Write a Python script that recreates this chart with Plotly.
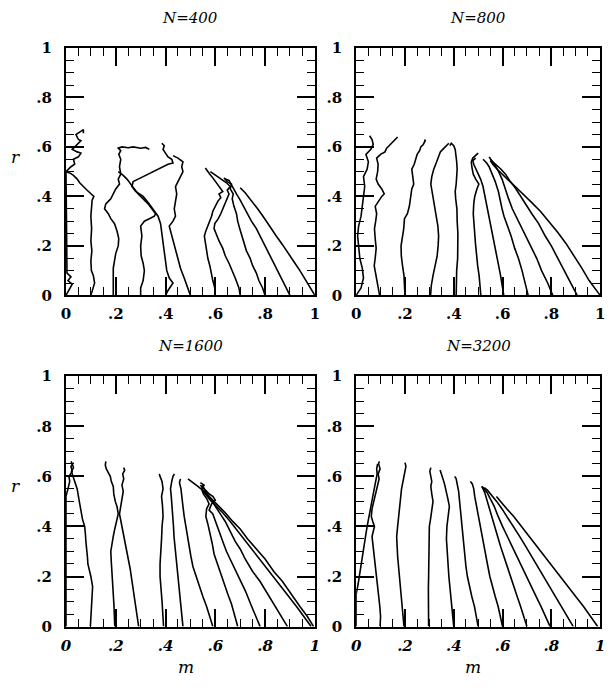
import plotly.graph_objects as go

# Panel titles and shared tick labels
PANEL_TITLES = ["N=400", "N=800", "N=1600", "N=3200"]
TICK_VALUES = [0, 0.2, 0.4, 0.6, 0.8, 1]
TICK_TEXT = ["0", ".2", ".4", ".6", ".8", "1"]

# Trajectories in the (m, r) plane, one list of (m, r) points per run
N400_TRACKS = [
    [(0.0, 0.0), (0.012, 0.02), (0.025, 0.045), (0.008, 0.06), (0.02, 0.075), (0.004, 0.09),
     (0.003, 0.2), (0.003, 0.35), (0.003, 0.48), (0.0, 0.5), (0.02, 0.52), (0.035, 0.53),
     (0.03, 0.55), (0.05, 0.56), (0.06, 0.575), (0.045, 0.58), (0.025, 0.59), (0.04, 0.605),
     (0.06, 0.625), (0.05, 0.63), (0.04, 0.65), (0.055, 0.66), (0.07, 0.67), (0.07, 0.655)],
    [(0.1, 0.0), (0.105, 0.02), (0.115, 0.05), (0.11, 0.08), (0.102, 0.1), (0.1, 0.14),
     (0.104, 0.18), (0.1, 0.22), (0.103, 0.27), (0.1, 0.32), (0.102, 0.36), (0.105, 0.385),
     (0.112, 0.4), (0.1, 0.41), (0.085, 0.425), (0.07, 0.44), (0.055, 0.455), (0.045, 0.47),
     (0.03, 0.485), (0.015, 0.495), (0.0, 0.5)],
    [(0.19, 0.0), (0.19, 0.03), (0.188, 0.07), (0.19, 0.11), (0.195, 0.14), (0.2, 0.17),
     (0.21, 0.2), (0.212, 0.23), (0.205, 0.26), (0.195, 0.29), (0.18, 0.31), (0.17, 0.33),
     (0.155, 0.35), (0.16, 0.37), (0.17, 0.38), (0.18, 0.39), (0.19, 0.41), (0.2, 0.43),
     (0.215, 0.45), (0.21, 0.47), (0.22, 0.49), (0.215, 0.52), (0.22, 0.55), (0.212, 0.57),
     (0.22, 0.585), (0.21, 0.595), (0.225, 0.6), (0.25, 0.597), (0.27, 0.6), (0.3, 0.595),
     (0.32, 0.598), (0.335, 0.59)],
    [(0.3, 0.0), (0.3, 0.03), (0.31, 0.06), (0.315, 0.1), (0.31, 0.13), (0.302, 0.16),
     (0.3, 0.2), (0.305, 0.24), (0.3, 0.28), (0.315, 0.3), (0.335, 0.31), (0.355, 0.32),
     (0.36, 0.33), (0.345, 0.35), (0.33, 0.37), (0.31, 0.39), (0.29, 0.41), (0.275, 0.43),
     (0.26, 0.45), (0.245, 0.47), (0.23, 0.485), (0.21, 0.5)],
    [(0.4, 0.0), (0.41, 0.02), (0.43, 0.05), (0.415, 0.07), (0.405, 0.1), (0.4, 0.14),
     (0.395, 0.18), (0.39, 0.22), (0.385, 0.26), (0.38, 0.29), (0.37, 0.32), (0.35, 0.35),
     (0.33, 0.375), (0.31, 0.4), (0.28, 0.42), (0.265, 0.44), (0.27, 0.46), (0.29, 0.47),
     (0.31, 0.48), (0.33, 0.49), (0.35, 0.5), (0.37, 0.51), (0.39, 0.52), (0.41, 0.53),
     (0.43, 0.535), (0.425, 0.55), (0.41, 0.56), (0.4, 0.575), (0.39, 0.59), (0.395, 0.605),
     (0.385, 0.615)],
    [(0.5, 0.0), (0.49, 0.03), (0.475, 0.07), (0.46, 0.11), (0.45, 0.15), (0.44, 0.19),
     (0.43, 0.23), (0.42, 0.26), (0.415, 0.28), (0.43, 0.3), (0.44, 0.32), (0.435, 0.35),
     (0.44, 0.38), (0.445, 0.41), (0.44, 0.44), (0.45, 0.46), (0.46, 0.48), (0.47, 0.5),
     (0.465, 0.52), (0.47, 0.54), (0.45, 0.555), (0.43, 0.565)],
    [(0.6, 0.0), (0.598, 0.03), (0.59, 0.06), (0.585, 0.09), (0.578, 0.12), (0.57, 0.15),
     (0.565, 0.18), (0.558, 0.21), (0.556, 0.24), (0.562, 0.26), (0.57, 0.28), (0.578, 0.3),
     (0.585, 0.32), (0.59, 0.34), (0.6, 0.36), (0.61, 0.38), (0.622, 0.395), (0.615, 0.41),
     (0.63, 0.42), (0.62, 0.435), (0.61, 0.445), (0.6, 0.46), (0.59, 0.475), (0.578, 0.49),
     (0.565, 0.505), (0.56, 0.515)],
    [(0.7, 0.0), (0.695, 0.03), (0.68, 0.07), (0.668, 0.1), (0.655, 0.13), (0.64, 0.16),
     (0.63, 0.19), (0.615, 0.22), (0.602, 0.25), (0.595, 0.27), (0.598, 0.29), (0.612, 0.31),
     (0.622, 0.33), (0.63, 0.35), (0.64, 0.37), (0.645, 0.39), (0.655, 0.41), (0.648, 0.425),
     (0.66, 0.44), (0.645, 0.455), (0.63, 0.465), (0.612, 0.48), (0.595, 0.49), (0.58, 0.5)],
    [(0.8, 0.0), (0.79, 0.03), (0.775, 0.06), (0.765, 0.09), (0.75, 0.12), (0.74, 0.15),
     (0.725, 0.18), (0.715, 0.21), (0.705, 0.24), (0.698, 0.27), (0.69, 0.3), (0.685, 0.33),
     (0.675, 0.36), (0.668, 0.39), (0.672, 0.41), (0.66, 0.43), (0.665, 0.45), (0.648, 0.46),
     (0.635, 0.475)],
    [(0.9, 0.0), (0.885, 0.03), (0.87, 0.06), (0.855, 0.09), (0.84, 0.12), (0.825, 0.15),
     (0.81, 0.18), (0.795, 0.21), (0.78, 0.24), (0.765, 0.27), (0.745, 0.3), (0.73, 0.33),
     (0.715, 0.36), (0.7, 0.385), (0.685, 0.41), (0.675, 0.43), (0.665, 0.45), (0.655, 0.465),
     (0.64, 0.47)],
    [(1.0, 0.0), (0.98, 0.035), (0.96, 0.07), (0.94, 0.1), (0.92, 0.13), (0.895, 0.17),
     (0.87, 0.205), (0.845, 0.24), (0.82, 0.28), (0.795, 0.315), (0.77, 0.35), (0.745, 0.385),
     (0.72, 0.415), (0.7, 0.435)],
]

N800_TRACKS = [
    [(0.0, 0.0), (0.02, 0.03), (0.03, 0.07), (0.025, 0.11), (0.015, 0.15), (0.01, 0.2),
     (0.006, 0.24), (0.01, 0.28), (0.02, 0.32), (0.025, 0.36), (0.03, 0.4), (0.035, 0.44),
     (0.03, 0.48), (0.045, 0.51), (0.05, 0.54), (0.04, 0.57), (0.06, 0.59), (0.07, 0.61),
     (0.065, 0.63), (0.055, 0.645)],
    [(0.096, 0.0), (0.09, 0.03), (0.083, 0.06), (0.078, 0.09), (0.074, 0.12), (0.078, 0.15),
     (0.082, 0.19), (0.078, 0.23), (0.075, 0.27), (0.08, 0.3), (0.084, 0.33), (0.078, 0.36),
     (0.09, 0.38), (0.105, 0.4), (0.115, 0.41), (0.105, 0.43), (0.09, 0.45), (0.082, 0.47),
     (0.088, 0.5), (0.09, 0.53), (0.084, 0.555), (0.1, 0.57), (0.118, 0.58), (0.125, 0.595),
     (0.135, 0.605), (0.145, 0.615), (0.155, 0.625), (0.165, 0.635), (0.17, 0.64)],
    [(0.2, 0.0), (0.199, 0.04), (0.196, 0.08), (0.19, 0.12), (0.185, 0.16), (0.184, 0.2),
     (0.192, 0.24), (0.195, 0.27), (0.198, 0.31), (0.21, 0.33), (0.218, 0.36), (0.222, 0.4),
     (0.228, 0.43), (0.236, 0.45), (0.233, 0.48), (0.228, 0.51), (0.238, 0.53), (0.245, 0.55),
     (0.25, 0.57), (0.26, 0.585), (0.265, 0.6), (0.275, 0.61), (0.283, 0.625), (0.28, 0.63)],
    [(0.305, 0.0), (0.308, 0.04), (0.315, 0.08), (0.325, 0.12), (0.332, 0.16), (0.336, 0.2),
     (0.338, 0.24), (0.335, 0.28), (0.33, 0.31), (0.322, 0.35), (0.316, 0.39), (0.312, 0.42),
     (0.306, 0.45), (0.31, 0.48), (0.318, 0.51), (0.33, 0.54), (0.338, 0.56), (0.345, 0.58),
     (0.355, 0.59), (0.365, 0.6), (0.372, 0.61), (0.38, 0.615)],
    [(0.41, 0.0), (0.41, 0.05), (0.412, 0.1), (0.416, 0.15), (0.418, 0.2), (0.417, 0.25),
     (0.414, 0.3), (0.413, 0.35), (0.408, 0.39), (0.406, 0.42), (0.41, 0.45), (0.412, 0.48),
     (0.414, 0.51), (0.412, 0.54), (0.41, 0.57), (0.406, 0.59), (0.4, 0.605), (0.39, 0.615),
     (0.384, 0.605)],
    [(0.511, 0.0), (0.509, 0.04), (0.504, 0.08), (0.498, 0.12), (0.492, 0.17), (0.489, 0.21),
     (0.486, 0.25), (0.483, 0.29), (0.48, 0.33), (0.482, 0.37), (0.486, 0.4), (0.495, 0.43),
     (0.503, 0.45), (0.49, 0.47), (0.48, 0.49), (0.474, 0.52), (0.472, 0.54), (0.478, 0.555),
     (0.49, 0.565), (0.5, 0.575)],
    [(0.605, 0.0), (0.6, 0.04), (0.592, 0.08), (0.584, 0.12), (0.576, 0.16), (0.566, 0.21),
     (0.558, 0.25), (0.55, 0.29), (0.543, 0.33), (0.536, 0.37), (0.528, 0.41), (0.52, 0.44),
     (0.51, 0.47), (0.5, 0.49), (0.49, 0.51), (0.482, 0.53), (0.478, 0.545), (0.49, 0.555)],
    [(0.705, 0.0), (0.693, 0.05), (0.68, 0.1), (0.665, 0.15), (0.65, 0.19), (0.635, 0.24),
     (0.62, 0.28), (0.606, 0.32), (0.598, 0.35), (0.59, 0.39), (0.583, 0.42), (0.57, 0.46),
     (0.558, 0.49), (0.545, 0.52), (0.535, 0.535), (0.52, 0.55)],
    [(0.806, 0.0), (0.785, 0.05), (0.76, 0.1), (0.74, 0.15), (0.72, 0.19), (0.7, 0.23),
     (0.68, 0.27), (0.66, 0.31), (0.64, 0.35), (0.625, 0.39), (0.612, 0.43), (0.598, 0.47),
     (0.584, 0.5), (0.57, 0.525), (0.555, 0.545), (0.545, 0.56)],
    [(0.906, 0.0), (0.88, 0.05), (0.852, 0.1), (0.826, 0.15), (0.8, 0.2), (0.775, 0.24),
     (0.748, 0.29), (0.72, 0.33), (0.694, 0.37), (0.672, 0.4), (0.652, 0.435), (0.632, 0.46),
     (0.612, 0.49), (0.594, 0.51), (0.575, 0.525), (0.56, 0.54), (0.55, 0.55)],
    [(1.0, 0.0), (0.978, 0.03), (0.955, 0.06), (0.925, 0.11), (0.893, 0.16), (0.86, 0.21),
     (0.826, 0.255), (0.79, 0.3), (0.755, 0.34), (0.72, 0.375), (0.685, 0.41), (0.652, 0.44),
     (0.625, 0.465), (0.598, 0.49), (0.578, 0.51), (0.56, 0.53), (0.55, 0.545)],
]

N1600_TRACKS = [
    [(0.0, 0.0), (0.0, 0.3), (0.0, 0.52), (0.008, 0.55), (0.015, 0.58), (0.012, 0.6),
     (0.025, 0.62), (0.02, 0.64), (0.03, 0.655)],
    [(0.098, 0.0), (0.1, 0.04), (0.104, 0.08), (0.106, 0.12), (0.107, 0.16), (0.1, 0.2),
     (0.095, 0.225), (0.088, 0.25), (0.086, 0.28), (0.082, 0.31), (0.08, 0.34), (0.078, 0.37),
     (0.075, 0.4), (0.066, 0.43), (0.06, 0.46), (0.055, 0.49), (0.05, 0.52), (0.045, 0.55),
     (0.035, 0.575), (0.028, 0.6), (0.022, 0.62), (0.03, 0.635), (0.025, 0.65), (0.02, 0.66)],
    [(0.196, 0.0), (0.196, 0.04), (0.193, 0.08), (0.19, 0.13), (0.188, 0.18), (0.185, 0.22),
     (0.182, 0.26), (0.18, 0.3), (0.184, 0.33), (0.19, 0.36), (0.196, 0.39), (0.203, 0.42),
     (0.21, 0.45), (0.205, 0.48), (0.198, 0.5), (0.192, 0.53), (0.19, 0.56), (0.182, 0.58),
     (0.178, 0.6), (0.17, 0.615), (0.162, 0.63), (0.158, 0.645), (0.16, 0.66)],
    [(0.292, 0.0), (0.288, 0.03), (0.282, 0.07), (0.276, 0.11), (0.27, 0.15), (0.264, 0.19),
     (0.258, 0.23), (0.25, 0.27), (0.244, 0.31), (0.236, 0.35), (0.228, 0.39), (0.222, 0.42),
     (0.215, 0.45), (0.22, 0.48), (0.226, 0.51), (0.23, 0.54), (0.225, 0.565), (0.232, 0.59),
     (0.228, 0.61), (0.236, 0.625), (0.232, 0.635)],
    [(0.392, 0.0), (0.39, 0.05), (0.386, 0.1), (0.382, 0.15), (0.378, 0.2), (0.378, 0.25),
     (0.382, 0.3), (0.384, 0.35), (0.386, 0.4), (0.39, 0.44), (0.388, 0.48), (0.384, 0.52),
     (0.39, 0.55), (0.386, 0.58), (0.378, 0.6), (0.375, 0.61)],
    [(0.47, 0.0), (0.466, 0.04), (0.46, 0.08), (0.458, 0.12), (0.455, 0.16), (0.448, 0.21),
     (0.442, 0.26), (0.437, 0.31), (0.434, 0.36), (0.432, 0.4), (0.428, 0.44), (0.426, 0.48),
     (0.423, 0.52), (0.42, 0.55), (0.425, 0.58), (0.43, 0.6), (0.436, 0.61)],
    [(0.59, 0.0), (0.578, 0.04), (0.565, 0.08), (0.55, 0.12), (0.537, 0.16), (0.522, 0.2),
     (0.51, 0.24), (0.502, 0.28), (0.495, 0.32), (0.488, 0.36), (0.48, 0.4), (0.475, 0.44),
     (0.47, 0.48), (0.466, 0.52), (0.462, 0.55), (0.456, 0.575), (0.46, 0.59)],
    [(0.69, 0.0), (0.68, 0.04), (0.665, 0.09), (0.65, 0.13), (0.636, 0.17), (0.622, 0.21),
     (0.606, 0.25), (0.595, 0.29), (0.588, 0.33), (0.58, 0.37), (0.57, 0.41), (0.562, 0.44),
     (0.565, 0.47), (0.575, 0.49), (0.566, 0.51), (0.552, 0.53), (0.545, 0.55), (0.555, 0.565),
     (0.54, 0.575)],
    [(0.78, 0.0), (0.762, 0.04), (0.742, 0.09), (0.722, 0.14), (0.702, 0.18), (0.682, 0.22),
     (0.662, 0.26), (0.645, 0.3), (0.63, 0.34), (0.615, 0.38), (0.6, 0.42), (0.59, 0.45),
     (0.575, 0.465), (0.585, 0.49), (0.6, 0.505), (0.59, 0.52), (0.575, 0.53), (0.56, 0.545),
     (0.55, 0.56)],
    [(0.89, 0.0), (0.865, 0.04), (0.84, 0.08), (0.81, 0.13), (0.78, 0.18), (0.75, 0.22),
     (0.72, 0.27), (0.7, 0.31), (0.68, 0.34), (0.66, 0.38), (0.64, 0.42), (0.62, 0.45),
     (0.6, 0.48), (0.58, 0.51), (0.565, 0.53), (0.555, 0.55), (0.54, 0.565)],
    [(0.995, 0.0), (0.97, 0.04), (0.94, 0.08), (0.905, 0.13), (0.87, 0.18), (0.835, 0.22),
     (0.8, 0.27), (0.765, 0.31), (0.73, 0.35), (0.7, 0.39), (0.67, 0.42), (0.64, 0.455),
     (0.61, 0.485), (0.58, 0.515), (0.555, 0.54), (0.53, 0.56), (0.505, 0.58), (0.49, 0.59)],
    [(0.985, 0.0), (0.96, 0.035), (0.93, 0.075), (0.895, 0.12), (0.86, 0.165), (0.825, 0.21),
     (0.79, 0.255), (0.755, 0.3), (0.72, 0.345), (0.69, 0.385), (0.66, 0.42), (0.63, 0.455),
     (0.605, 0.48), (0.58, 0.505), (0.56, 0.53), (0.545, 0.55), (0.55, 0.565)],
]

N3200_TRACKS = [
    [(0.0, 0.0), (0.0, 0.13), (0.008, 0.17), (0.015, 0.21), (0.02, 0.25), (0.028, 0.29),
     (0.034, 0.33), (0.04, 0.37), (0.045, 0.4), (0.052, 0.44), (0.06, 0.48), (0.068, 0.52),
     (0.074, 0.55), (0.08, 0.58), (0.086, 0.61), (0.084, 0.63), (0.088, 0.65)],
    [(0.098, 0.0), (0.1, 0.04), (0.097, 0.08), (0.092, 0.12), (0.087, 0.16), (0.082, 0.2),
     (0.077, 0.24), (0.072, 0.28), (0.068, 0.32), (0.065, 0.36), (0.07, 0.38), (0.075, 0.4),
     (0.068, 0.42), (0.062, 0.44), (0.065, 0.47), (0.072, 0.5), (0.08, 0.53), (0.088, 0.56),
     (0.094, 0.59), (0.09, 0.61), (0.098, 0.63), (0.092, 0.65), (0.095, 0.66)],
    [(0.196, 0.0), (0.192, 0.04), (0.188, 0.08), (0.186, 0.12), (0.182, 0.16), (0.178, 0.2),
     (0.174, 0.24), (0.17, 0.28), (0.168, 0.32), (0.166, 0.36), (0.17, 0.4), (0.174, 0.44),
     (0.178, 0.48), (0.182, 0.52), (0.186, 0.55), (0.192, 0.58), (0.198, 0.61), (0.204, 0.64),
     (0.2, 0.655)],
    [(0.297, 0.0), (0.296, 0.05), (0.295, 0.1), (0.296, 0.15), (0.297, 0.2), (0.298, 0.25),
     (0.3, 0.3), (0.299, 0.35), (0.3, 0.4), (0.305, 0.43), (0.31, 0.46), (0.315, 0.5),
     (0.31, 0.53), (0.306, 0.56), (0.31, 0.58), (0.305, 0.6), (0.302, 0.62), (0.306, 0.635)],
    [(0.4, 0.0), (0.396, 0.05), (0.39, 0.1), (0.385, 0.15), (0.38, 0.2), (0.376, 0.25),
     (0.372, 0.3), (0.37, 0.35), (0.372, 0.4), (0.378, 0.44), (0.382, 0.48), (0.376, 0.51),
     (0.37, 0.54), (0.362, 0.57), (0.356, 0.59), (0.35, 0.61), (0.344, 0.625)],
    [(0.5, 0.0), (0.494, 0.04), (0.485, 0.08), (0.474, 0.12), (0.464, 0.16), (0.456, 0.2),
     (0.45, 0.24), (0.446, 0.28), (0.442, 0.32), (0.438, 0.36), (0.436, 0.4), (0.432, 0.44),
     (0.428, 0.48), (0.424, 0.51), (0.42, 0.54), (0.414, 0.57), (0.41, 0.59), (0.404, 0.6)],
    [(0.6, 0.0), (0.592, 0.04), (0.582, 0.08), (0.57, 0.12), (0.558, 0.16), (0.548, 0.2),
     (0.538, 0.25), (0.53, 0.29), (0.522, 0.33), (0.514, 0.37), (0.505, 0.41), (0.497, 0.45),
     (0.49, 0.49), (0.486, 0.52), (0.482, 0.55), (0.476, 0.57), (0.468, 0.58)],
    [(0.7, 0.0), (0.688, 0.04), (0.674, 0.08), (0.66, 0.12), (0.646, 0.16), (0.632, 0.2),
     (0.618, 0.24), (0.605, 0.28), (0.592, 0.32), (0.58, 0.36), (0.568, 0.4), (0.556, 0.44),
     (0.545, 0.48), (0.535, 0.51), (0.527, 0.535), (0.52, 0.55), (0.515, 0.56)],
    [(0.795, 0.0), (0.778, 0.04), (0.758, 0.08), (0.738, 0.12), (0.718, 0.16), (0.698, 0.2),
     (0.678, 0.24), (0.658, 0.28), (0.638, 0.32), (0.62, 0.36), (0.6, 0.4), (0.582, 0.44),
     (0.566, 0.48), (0.55, 0.51), (0.537, 0.535), (0.525, 0.55), (0.515, 0.56)],
    [(0.89, 0.0), (0.866, 0.04), (0.842, 0.08), (0.818, 0.12), (0.794, 0.16), (0.77, 0.2),
     (0.745, 0.24), (0.72, 0.28), (0.695, 0.32), (0.67, 0.36), (0.645, 0.4), (0.62, 0.44),
     (0.598, 0.47), (0.576, 0.5), (0.556, 0.525), (0.538, 0.545), (0.525, 0.555)],
    [(0.99, 0.0), (0.962, 0.04), (0.932, 0.08), (0.9, 0.12), (0.868, 0.16), (0.836, 0.2),
     (0.804, 0.24), (0.772, 0.28), (0.74, 0.32), (0.708, 0.36), (0.676, 0.4), (0.646, 0.44),
     (0.618, 0.47), (0.594, 0.5), (0.575, 0.52)],
]

PANEL_TRACKS = [N400_TRACKS, N800_TRACKS, N1600_TRACKS, N3200_TRACKS]

W, H = 612, 695
# plot-area edges in pixels: columns (left, right) and rows (top, bottom)
COLS = [(62, 315), (357, 605)]
ROWS = [(40, 294), (377, 634)]

TICK_FONT = dict(family="DejaVu Serif", size=15, color="black", weight="bold")
TEXT_FONT = dict(family="DejaVu Serif", size=15, color="black", style="italic")
AXIS_LABEL_FONT = dict(family="DejaVu Serif", size=17, color="black", style="italic")

fig = go.Figure()

for i, tracks in enumerate(PANEL_TRACKS):
    suffix = "" if i == 0 else str(i + 1)
    for track in tracks:
        fig.add_trace(go.Scatter(
            x=[p[0] for p in track], y=[p[1] for p in track],
            mode="lines", line=dict(color="black", width=1.6),
            xaxis="x" + suffix, yaxis="y" + suffix,
            showlegend=False, hoverinfo="skip",
        ))

layout = {}
annotations = []
for i in range(4):
    row, col = divmod(i, 2)
    x0, x1 = COLS[col]
    y0, y1 = ROWS[row]
    suffix = "" if i == 0 else str(i + 1)
    common = dict(
        range=[0, 1], tickmode="array", tickvals=TICK_VALUES, ticktext=TICK_TEXT,
        ticks="inside", ticklen=18, tickwidth=1.6, tickcolor="black",
        showline=True, linecolor="black", linewidth=2, mirror="ticks",
        showgrid=False, zeroline=False, fixedrange=True,
        minor=dict(tickmode="linear", tick0=0, dtick=0.05, ticks="inside",
                   ticklen=8, tickwidth=1.4, tickcolor="black", showgrid=False),
    )
    xfont = dict(TICK_FONT)
    if row == 1:
        xfont["style"] = "italic"
    layout["xaxis" + suffix] = dict(common, domain=[x0 / W, x1 / W],
                                    anchor="y" + suffix, tickfont=xfont,
                                    ticklabelstandoff=4)
    layout["yaxis" + suffix] = dict(common, domain=[1 - y1 / H, 1 - y0 / H],
                                    anchor="x" + suffix, tickfont=TICK_FONT,
                                    ticklabelstandoff=9)
    # panel title
    annotations.append(dict(
        text=PANEL_TITLES[i], x=(x0 + x1) / 2 / W, y=1 - (y0 - 31) / H,
        xref="paper", yref="paper", showarrow=False, font=TEXT_FONT,
        xanchor="center", yanchor="middle",
    ))
    if col == 0:
        annotations.append(dict(
            text="r", x=11 / W, y=1 - (y0 + 0.44 * (y1 - y0)) / H,
            xref="paper", yref="paper", showarrow=False, font=AXIS_LABEL_FONT,
            xanchor="center", yanchor="middle",
        ))
    if row == 1:
        annotations.append(dict(
            text="m", x=((x0 + x1) / 2 - 5) / W, y=1 - 676 / H,
            xref="paper", yref="paper", showarrow=False, font=AXIS_LABEL_FONT,
            xanchor="center", yanchor="middle",
        ))

fig.update_layout(
    **layout,
    annotations=annotations,
    width=W, height=H, autosize=False,
    margin=dict(l=0, r=0, t=0, b=0),
    paper_bgcolor="white", plot_bgcolor="white",
)

fig.write_html("out.html")
